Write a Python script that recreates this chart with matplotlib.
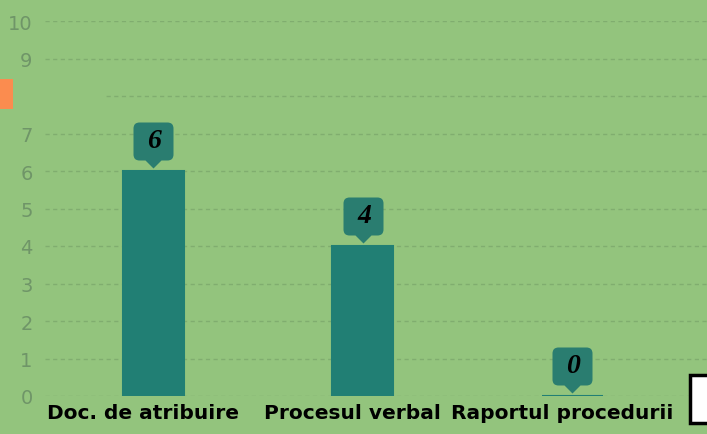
import matplotlib
matplotlib.use("Agg")
import matplotlib.pyplot as plt
from matplotlib.path import Path
from matplotlib.patches import Rectangle
from matplotlib.transforms import ScaledTranslation
import numpy as np

categories = ["Doc. de atribuire", "Procesul verbal", "Raportul procedurii"]
values = [6, 4, 0]
yticks = [0, 1, 2, 3, 4, 5, 6, 7, 8, 9, 10]
ytick_labels = ["0", "1", "2", "3", "4", "5", "6", "7", "", "9", "10"]

BG = "#93c47d"
BAR = "#217f74"
CALLOUT = "#2a7d70"
GRID = "#80ad6f"
TICK = "#6f9568"

W, H = 707, 435
fig = plt.figure(figsize=(W / 100, H / 100), dpi=100, facecolor=BG)
ax = fig.add_axes([45 / W, (H - 397) / H, 662 / W, 375 / H], facecolor=BG)

x = np.arange(len(categories))
ax.set_xlim(-108 / 209.5, (707 - 153) / 209.5)
ax.set_ylim(0, 10)

for yv in yticks:
    ax.axhline(yv, color=GRID, lw=1.0, ls=(0, (3, 2.5)), zorder=0.5)

ax.bar(x, values, width=61 / 209.5, color=BAR, edgecolor=BAR, linewidth=1.5, zorder=2)

# callout marker shape (pixel units, tip near origin)
r = 6
L, R, B, T = -20, 20, 11, 49
verts = [(0, 3), (8, B), (R - r, B), (R, B), (R, B + r), (R, T - r), (R, T), (R - r, T),
         (L + r, T), (L, T), (L, T - r), (L, B + r), (L, B), (L + r, B), (-8, B), (0, 3)]
codes = [Path.MOVETO, Path.LINETO, Path.LINETO, Path.CURVE3, Path.CURVE3, Path.LINETO,
         Path.CURVE3, Path.CURVE3, Path.LINETO, Path.CURVE3, Path.CURVE3, Path.LINETO,
         Path.CURVE3, Path.CURVE3, Path.LINETO, Path.CLOSEPOLY]
callout = Path(verts, codes)
ax.plot(x, values, ls="none", marker=callout, markersize=0.72 * 98,
        markerfacecolor=CALLOUT, markeredgecolor="none", zorder=3, clip_on=False)
for xi, v in zip(x, values):
    ax.annotate(str(v), xy=(xi, v), xytext=(1, 30 * 0.72), textcoords="offset points",
                ha="center", va="center", fontsize=20, fontweight="bold", fontstyle="italic",
                family="Liberation Serif", color="black", zorder=4)

ax.set_yticks(yticks)
ax.set_yticklabels(ytick_labels, fontsize=14, color=TICK)
ax.set_xticks(x)
ax.set_xticklabels(categories, fontsize=14.5, fontweight="bold", color="black")
ax.tick_params(axis="both", length=0)
ax.tick_params(axis="y", pad=9)
ax.tick_params(axis="x", pad=5)
shift = ScaledTranslation(-10 / 100, 0, fig.dpi_scale_trans)
for lab in ax.get_xticklabels():
    lab.set_transform(lab.get_transform() + shift)
for s in ax.spines.values():
    s.set_visible(False)

# occluding patch over the "8" row and the orange marker at the left edge
fig.patches.append(Rectangle((0, (H - 110) / H), 105 / W, 24 / H, transform=fig.transFigure,
                             facecolor=BG, edgecolor="none", zorder=5))
fig.patches.append(Rectangle((0, (H - 110) / H), 13 / W, 30 / H, transform=fig.transFigure,
                             facecolor="#fb8c4f", edgecolor="none", zorder=6))
# partial white box at bottom right
fig.patches.append(Rectangle((690 / W, (H - 424) / H), 30 / W, 48 / H, transform=fig.transFigure,
                             facecolor="white", edgecolor="black", linewidth=2.5, zorder=6))

fig.savefig("out.png", dpi=100, facecolor=BG)
